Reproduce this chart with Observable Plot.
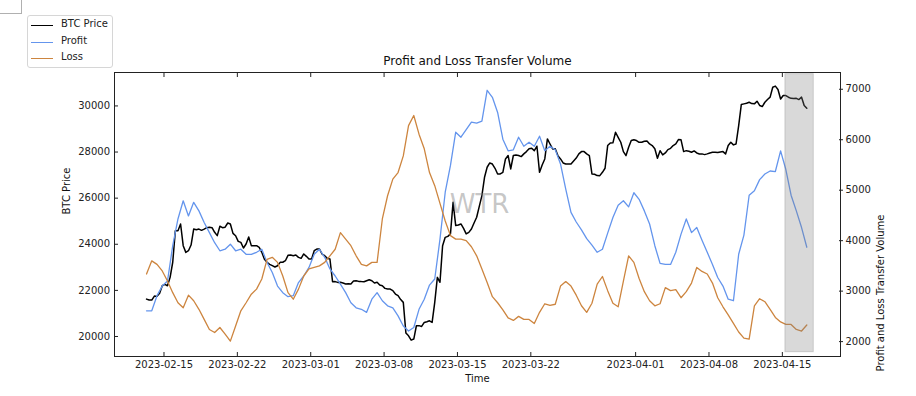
<!DOCTYPE html>
<html><head><meta charset="utf-8">
<script src="https://cdn.jsdelivr.net/npm/d3@7"></script>
<script src="https://cdn.jsdelivr.net/npm/@observablehq/plot@0.6"></script>
<style>
html,body{margin:0;padding:0;background:#fff;}
#wrap{position:relative;width:916px;height:396px;font-family:"DejaVu Sans",sans-serif;}
#wrap svg{position:absolute;left:0;top:0;}
#corner{position:absolute;left:0;top:0;width:22px;height:14px;border-right:1px solid #b0b0b0;border-bottom:1px solid #b0b0b0;box-sizing:border-box;}
#legend{position:absolute;left:27px;top:15px;width:86px;height:53px;border:1px solid #d6d6d6;border-radius:3px;background:rgba(255,255,255,0.8);box-sizing:border-box;font-size:10px;color:#222;}
.item{position:absolute;left:0;width:84px;height:12px;}
.item .sw{position:absolute;left:3px;top:6px;width:22px;height:0;border-top-style:solid;}
.item span{position:absolute;left:33px;top:-1px;line-height:12px;white-space:nowrap;}
</style></head>
<body>
<div id="wrap"><div id="corner"></div></div>
<script>
// ---- data ----
const seriesStart = "2023-02-13T08:00:00Z";
const btcStepHours = 6;      // BTC price sampled every 6 hours
const volumeStepHours = 12;  // transfer volumes sampled every 12 hours

const btcPrice = [
21620,21580,21580,21754,21740,21870,22200,22260,22200,22564,
23220,24590,24590,24879,23940,23649,23720,23967,24660,24633,
24660,24604,24660,24720,24740,24720,24520,24373,24780,24720,
24740,24923,24880,24474,24370,24127,24080,23837,24010,24315,
23940,23939,23940,23866,23650,23346,23220,23128,23070,23013,
23070,23215,23220,23287,23520,23533,23505,23533,23430,23389,
23580,23476,23360,23360,23720,23794,23790,23577,23505,23389,
23360,22376,22380,22347,22350,22318,22280,22289,22280,22405,
22420,22390,22380,22376,22420,22463,22420,22318,22350,22231,
22200,22086,22060,22058,21990,21840,21770,21600,21480,20147,
20030,19843,19890,20466,20470,20437,20610,20640,20680,20610,
21480,22564,22350,23939,24300,24344,24450,25820,24810,24836,
24880,24691,24450,24517,24660,24923,25170,25646,26110,26905,
27340,27527,27480,27296,27050,27050,27120,27701,27850,27267,
27850,27874,27850,27802,27920,28019,28140,28164,28060,28251,
27120,27440,27700,28569,28350,28135,28140,27846,27700,27527,
27480,27484,27480,27614,27740,27918,28020,28019,27920,27846,
27050,27035,26980,26977,27120,27296,28280,28395,28400,28858,
28640,28424,28020,27846,28210,28497,28530,28497,28420,28424,
28470,28482,28350,28280,28140,27730,28060,27874,27960,28106,
28160,28280,28350,28540,28530,28019,28060,28034,27990,28048,
27960,27918,27920,27889,27920,27961,27990,27990,27980,28005,
28020,27918,28280,28424,28310,28352,29150,30059,30090,30117,
30160,30103,30090,30204,30020,29973,30160,30276,30380,30812,
30860,30711,30300,30450,30450,30378,30330,30320,30330,30276,
30380,30016,29900];

const profitVolume = [
2610,2610,2910,3100,3200,3900,4430,4790,4490,4760,
4590,4360,4160,3960,3800,3830,3930,3800,3830,3730,
3730,3770,3830,3570,3370,3100,2970,2890,2910,3170,
3300,3470,3730,3830,3670,3440,3300,3140,2970,2770,
2670,2640,2580,2840,2970,2810,2710,2670,2510,2310,
2210,2280,2640,2840,3120,3240,4030,4960,5490,6150,
6050,6200,6350,6330,6370,6980,6840,6540,6010,5780,
5800,6050,5870,5950,5870,6070,5780,5870,5800,5520,
5020,4560,4370,4215,4040,3910,3770,3830,4150,4460,
4700,4790,4670,4950,4820,4590,4330,3900,3550,3530,
3530,3770,4130,4430,4160,4260,4010,3770,3530,3270,
3100,2840,2810,3730,4110,4900,4990,5210,5320,5380,
5370,5780,5410,4900,4590,4260,3870];

const lossVolume = [
3340,3600,3530,3400,3200,2970,2770,2670,2920,2810,
2640,2440,2240,2180,2280,2150,2010,2310,2610,2770,
2940,3040,3240,3630,3670,3570,3300,2970,2840,3040,
3300,3440,3470,3500,3570,3700,3830,4160,4030,3900,
3700,3530,3500,3570,3570,4430,4890,5220,5350,5680,
6280,6480,6110,5820,5350,5090,4740,4390,4100,4030,
4030,4000,3880,3700,3440,3170,2890,2770,2630,2470,
2420,2500,2440,2440,2360,2580,2750,2720,2740,3100,
3190,3100,2920,2710,2580,2760,3140,3290,3010,2760,
2690,3200,3700,3570,3250,2990,2810,2710,2750,3070,
3010,3030,2870,2990,3160,3470,3390,3340,3160,2870,
2690,2530,2360,2190,2070,2050,2710,2850,2790,2640,
2480,2390,2340,2340,2240,2210,2330];

const seriesNames = ["BTC Price", "Profit", "Loss"];
const seriesColors = ["#000000", "#6495ED", "#CD853F"];

const xTickDates = ["2023-02-15","2023-02-22","2023-03-01","2023-03-08","2023-03-15","2023-03-22","2023-04-01","2023-04-08","2023-04-15"];
const btcTicks = [20000, 22000, 24000, 26000, 28000, 30000];
const volumeTicks = [2000, 3000, 4000, 5000, 6000, 7000];

const xDomain = ["2023-02-10T06:40:00Z", "2023-04-20T13:10:00Z"];
const btcDomain = [19132, 31450];
const volumeDomain = [1705, 7332];

const highlightSpan = [{start: "2023-04-15T07:00:00Z", end: "2023-04-18T00:00:00Z", lo: 1790, hi: 7300}];

const titleText = "Profit and Loss Transfer Volume";
const xLabel = "Time";
const yLabelLeft = "BTC Price";
const yLabelRight = "Profit and Loss Transfer Volume";
const watermark = "WTR";

// ---- build ----
const t0 = new Date(seriesStart).getTime();
const toRows = (arr, h) => arr.map((v, i) => ({t: new Date(t0 + i * h * 3600e3), v}));
const btcRows = toRows(btcPrice, btcStepHours);
const profitRows = toRows(profitVolume, volumeStepHours);
const lossRows = toRows(lossVolume, volumeStepHours);
const vol2btc = d3.scaleLinear(volumeDomain, btcDomain);
const xTicks = xTickDates.map(d => new Date(d + "T00:00:00Z"));
const span = highlightSpan.map(d => ({...d, start: new Date(d.start), end: new Date(d.end)}));
const fmtDate = d3.utcFormat("%Y-%m-%d");

const chart = Plot.plot({
  width: 916, height: 396,
  marginLeft: 114, marginRight: 76, marginTop: 72, marginBottom: 40,
  style: {fontFamily: "DejaVu Sans", fontSize: "10px", color: "#222", background: "transparent", overflow: "visible"},
  x: {type: "utc", domain: xDomain.map(d => new Date(d)), axis: null},
  y: {domain: btcDomain, axis: null},
  marks: [
    Plot.line(btcRows, {x: "t", y: "v", stroke: seriesColors[0], strokeWidth: 1.5}),
    Plot.line(profitRows, {x: "t", y: d => vol2btc(d.v), stroke: seriesColors[1], strokeWidth: 1.3}),
    Plot.line(lossRows, {x: "t", y: d => vol2btc(d.v), stroke: seriesColors[2], strokeWidth: 1.3}),
    Plot.rect(span, {x1: "start", x2: "end", y1: d => vol2btc(d.lo), y2: d => vol2btc(d.hi), fill: "gray", fillOpacity: 0.3, stroke: "gray", strokeOpacity: 0.3}),
    Plot.text([watermark], {text: d => d, frameAnchor: "middle", dx: 2, dy: -10, fontSize: 26, fill: "#808080", fillOpacity: 0.45}),
    // x axis: inward ticks bottom and top, labels below
    Plot.axisX(xTicks, {anchor: "bottom", tickSize: 4, dy: -4, fill: "none", label: null}),
    Plot.axisX(xTicks, {anchor: "top", tickSize: 4, dy: 4, fill: "none", label: null}),
    Plot.axisX(xTicks, {anchor: "bottom", tickSize: 0, tickPadding: 4, tickFormat: fmtDate, label: null, fontSize: 10}),
    // left axis
    Plot.axisY(btcTicks, {anchor: "left", tickSize: 4, dx: 4, fill: "none", label: null}),
    Plot.axisY(btcTicks, {anchor: "left", tickSize: 0, tickPadding: 4.5, tickFormat: d => String(d), label: null, fontSize: 10}),
    // right axis (volume)
    Plot.axisY(volumeTicks, {anchor: "right", y: vol2btc, tickSize: 4, dx: -2, fill: "none", label: null}),
    Plot.axisY(volumeTicks, {anchor: "right", y: vol2btc, tickSize: 0, tickPadding: 5, tickFormat: d => String(d), label: null, fontSize: 10}),
    Plot.frame({stroke: "#222"}),
    Plot.text([titleText], {text: d => d, frameAnchor: "top", dy: -11, lineAnchor: "middle", fontSize: 12, fill: "#111"}),
    Plot.text([xLabel], {text: d => d, frameAnchor: "bottom", dy: 22, lineAnchor: "middle", fontSize: 10, fill: "#111"}),
    Plot.text([yLabelLeft], {text: d => d, frameAnchor: "left", dx: -48, rotate: -90, lineAnchor: "middle", fontSize: 10, fill: "#111"}),
    Plot.text([yLabelRight], {text: d => d, frameAnchor: "right", dx: 40, rotate: -90, lineAnchor: "middle", fontSize: 10, fill: "#111"})
  ]
});
const wrap = document.getElementById("wrap");
wrap.appendChild(chart);

// legend (outside the axes, top-left)
const legend = document.createElement("div");
legend.id = "legend";
const rowTops = [3, 20, 36];
seriesNames.forEach((name, i) => {
  const item = document.createElement("div");
  item.className = "item";
  item.style.top = rowTops[i] + "px";
  const sw = document.createElement("div");
  sw.className = "sw";
  sw.style.borderTopColor = seriesColors[i];
  sw.style.borderTopWidth = i === 0 ? "1.5px" : "1.3px";
  const label = document.createElement("span");
  label.textContent = name;
  item.appendChild(sw); item.appendChild(label);
  legend.appendChild(item);
});
wrap.appendChild(legend);
</script>
</body></html>
